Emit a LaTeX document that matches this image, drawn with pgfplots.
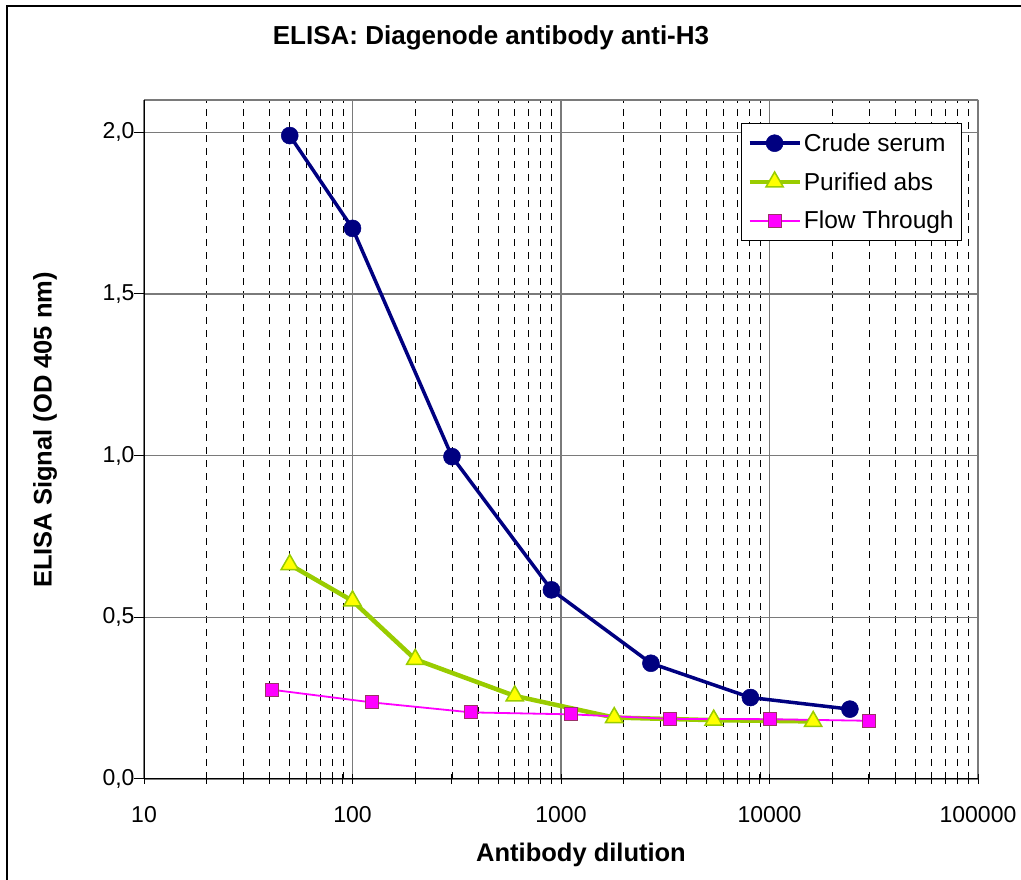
\documentclass[border=0pt]{standalone}
\usepackage{fontspec}
\setmainfont{Liberation Sans}
\usepackage{pgfplots}
\pgfplotsset{compat=1.18}
\definecolor{crude}{HTML}{000080}
\definecolor{purline}{HTML}{99CC00}
\definecolor{purfill}{HTML}{FFFF00}
\definecolor{flow}{HTML}{FF00FF}
\definecolor{flowedge}{HTML}{993366}
\definecolor{gridgray}{HTML}{7A7A7A}

\begin{document}
\begin{tikzpicture}[x=1pt,y=1pt]
\path[use as bounding box] (0,0) rectangle (1021,879);
\draw[line width=1.5pt] (7,-20) -- (7,873) -- (1040,873);
\begin{axis}[
    at={(144pt,100pt)}, anchor=south west,
    width=834pt, height=679pt, scale only axis,
    xmode=log, xmin=10, xmax=100000,
    ymin=0, ymax=2.1,
    xtick={10,100,1000,10000,100000},
    xticklabels={10,100,1000,10000,100000},
    ytick={0,0.5,1,1.5,2},
    yticklabel style={xshift=4pt, /pgf/number format/.cd, use comma, fixed, fixed zerofill, precision=1},
    /pgf/number format/assume math mode=true,
    tick label style={font=\fontsize{23}{27}\selectfont},
    xticklabel style={yshift=-19pt},
    tick pos=left,
    xtick align=center, ytick align=outside,
    major tick length=10pt, minor tick length=10pt,
    tick style={black, line width=1pt},
    axis line style={draw=none},
    xmajorgrids, ymajorgrids, xminorgrids,
    major grid style={gridgray, line width=1.6pt, solid},
    minor grid style={black, line width=0.8pt, dash pattern=on 7pt off 6pt},
    legend style={at={(0.981,0.966)}, anchor=north east, draw=black, line width=1pt,
        font=\fontsize{24.5}{28}\selectfont, row sep=15.5pt, inner xsep=6pt, inner ysep=8pt},
    legend cell align=left,
    legend image code/.code={\draw[mark repeat=2,mark phase=2,#1] plot coordinates {(0pt,0pt) (25pt,0pt) (50pt,0pt)};},
]
\draw[gridgray, line width=1.6pt] (rel axis cs:0,1) -- (rel axis cs:1,1) -- (rel axis cs:1,0);
\draw[black, line width=1.5pt] (rel axis cs:0,1) -- (rel axis cs:0,0) -- (rel axis cs:1,0);

\addplot[crude, line width=3.5pt, mark=*, mark size=8.5pt,
    mark options={fill=crude, draw=crude, line width=0.5pt, solid}] coordinates {
    (50,1.99) (100,1.703) (300,0.997) (900,0.585) (2700,0.358) (8100,0.252) (24300,0.216)
};
\addplot[purline, line width=4.5pt, mark=triangle*, mark size=10pt,
    mark options={fill=purfill, draw=purline, line width=1.5pt, solid}] coordinates {
    (50,0.663) (100,0.551) (200,0.37) (600,0.257) (1800,0.19) (5400,0.182) (16200,0.178)
};
\addplot[flow, line width=1.8pt, mark=square*, mark size=6.5pt,
    mark options={fill=flow, draw=flowedge, line width=1pt, solid}] coordinates {
    (41.2,0.276) (123.5,0.237) (370,0.206) (1111,0.2) (3333,0.186) (10000,0.185) (30000,0.18)
};
\legend{Crude serum, Purified abs, Flow Through}
\end{axis}
\node[font=\bfseries\fontsize{26}{30}\selectfont] at (491,841) {ELISA: Diagenode antibody anti-H3};
\node[font=\bfseries\fontsize{25.5}{30}\selectfont] at (581,24) {Antibody dilution};
\node[rotate=90, font=\bfseries\fontsize{25.5}{30}\selectfont] at (45,449) {ELISA Signal (OD 405 nm)};
\end{tikzpicture}
\end{document}
